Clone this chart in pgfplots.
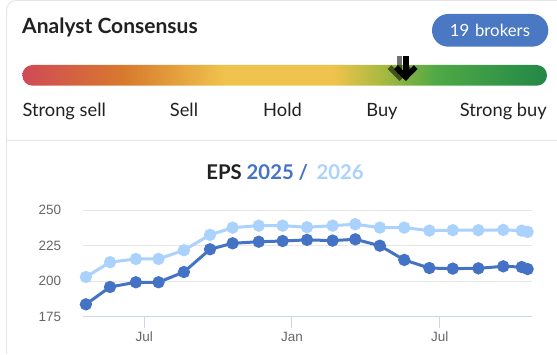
\documentclass[border=0pt]{standalone}
\usepackage{fontspec}
\setmainfont{Lato}
\newfontfamily\tickfont{Liberation Sans}
\usepackage{pgfplots}
\pgfplotsset{compat=1.18}
\definecolor{darkblue}{HTML}{4472C4}
\definecolor{lightblue}{HTML}{AAD2FC}
\definecolor{badge}{HTML}{4A78C2}
\definecolor{gridc}{HTML}{E6E6E6}
\definecolor{axisc}{HTML}{CCD6EB}
\definecolor{cardc}{HTML}{E6E6E6}
\definecolor{c0}{HTML}{CF4A56}
\definecolor{c1}{HTML}{D8792E}
\definecolor{c2}{HTML}{F0C34C}
\definecolor{c3}{HTML}{F0C34C}
\definecolor{c4}{HTML}{A9B940}
\definecolor{c5}{HTML}{4EA945}
\definecolor{c6}{HTML}{238847}
\pgfdeclarehorizontalshading{consensus}{100bp}{color(0bp)=(c0); color(25bp)=(c0); color(34.6bp)=(c1); color(44.3bp)=(c2); color(54.6bp)=(c3); color(59.2bp)=(c4); color(64.5bp)=(c5); color(75bp)=(c6); color(100bp)=(c6)}
\pgfplotstableread{
x y
-2.37 183.7
-1.39 195.9
-0.34 199.2
0.58 199.2
1.61 206.4
2.67 222.4
3.59 226.6
4.65 227.7
5.62 228.2
6.61 229.0
7.65 228.5
8.57 229.4
9.57 224.9
10.56 214.9
11.58 209.2
12.53 208.8
13.57 209.0
14.58 210.4
15.33 209.9
15.57 208.5
}\epsA
\pgfplotstableread{
x y
-2.37 202.9
-1.39 213.3
-0.34 215.6
0.58 215.6
1.61 221.7
2.67 232.5
3.59 237.6
4.65 239.0
5.62 239.0
6.61 237.9
7.65 239.0
8.57 240.0
9.57 237.6
10.56 237.6
11.58 235.5
12.53 235.8
13.57 235.8
14.58 236.0
15.33 235.5
15.57 234.6
}\epsB
\begin{document}
\begin{tikzpicture}[x=1pt,y=1pt]
\useasboundingbox (0,0) rectangle (557,354);
% card
\draw[cardc, line width=1pt] (6.5,0) -- (6.5,344) arc[start angle=180,end angle=90,radius=9.5] -- (560,353.5);
\draw[cardc, line width=1pt] (6.5,213) -- (560,213);
% header
\node[anchor=base west, inner sep=0pt, font=\bfseries\fontsize{21}{24}\selectfont, text=black!87] at (22,320) {Analyst Consensus};
\fill[badge, rounded corners=16.3pt] (432,307.3) rectangle (548.3,340);
\node[anchor=base, inner sep=0pt, font=\fontsize{16.8}{19}\selectfont, text=white] at (490,317.5) {19\,\,brokers};
% gradient bar
\shade[shading=consensus, rounded corners=10.3pt] (22.3,268.3) rectangle (547,289);
% arrows
\begin{scope}[opacity=0.55]
\fill[black] (396.7,298.3) rectangle (402.3,280);
\fill[black] (387.5,285) -- (391.3,288.8) -- (399.5,280.6) -- (407.7,288.8) -- (411.5,285) -- (399.5,273) -- cycle;
\end{scope}
\fill[black] (403,297.5) rectangle (408.6,280);
\fill[black] (394,285) -- (397.8,288.8) -- (405.8,280.6) -- (413.8,288.8) -- (417.6,285) -- (405.8,273) -- cycle;
% labels
\begin{scope}[every node/.style={inner sep=0pt, font=\fontsize{18.3}{21}\selectfont, text=black!87}]
\node[anchor=base west] at (22.3,237.5) {Strong sell};
\node[anchor=base] at (184,237.5) {Sell};
\node[anchor=base] at (282.5,237.5) {Hold};
\node[anchor=base] at (382,237.5) {Buy};
\node[anchor=base east] at (547,237.5) {Strong buy};
\end{scope}
% title
\node[anchor=base, inner sep=0pt, font=\bfseries\fontsize{20.3}{24}\selectfont] at (285,174.7) {\textcolor{black!87}{EPS} \textcolor{darkblue}{2025 /}\, \textcolor{lightblue}{2026}};
% chart
\begin{axis}[
  at={(82.7pt,37.3pt)}, anchor=south west,
  width=449.6pt, height=106.7pt, scale only axis,
  xmin=-2.5, xmax=15.76, ymin=175, ymax=250,
  clip=false,
  axis line style={draw=none},
  axis x line*=bottom,
  axis y line*=left,
  ytick={175,200,225,250},
  xtick={0,6,12}, xticklabels={Jul,Jan,Jul},
  ymajorgrids, grid style={gridc, line width=1pt},
  major tick length=11pt,
  xtick style={axisc, line width=1pt},
  ytick style={draw=none},
  xtick align=outside,
  tick label style={font=\tickfont\fontsize{13.5}{15}\selectfont, text=black!60},
  xticklabel style={yshift=-0.5pt},
  yticklabel style={xshift=-18pt},
  /pgf/number format/assume math mode=true,
]
\addplot[axisc, line width=1pt, forget plot] coordinates {(-2.5,175) (15.76,175)};
\addplot[lightblue, line width=3pt, mark=*, mark size=4.6pt, mark options={fill=lightblue, draw=none}] table {\epsB};
\addplot[darkblue, line width=3pt, mark=*, mark size=4.6pt, mark options={fill=darkblue, draw=none}] table {\epsA};
\end{axis}
\end{tikzpicture}
\end{document}
